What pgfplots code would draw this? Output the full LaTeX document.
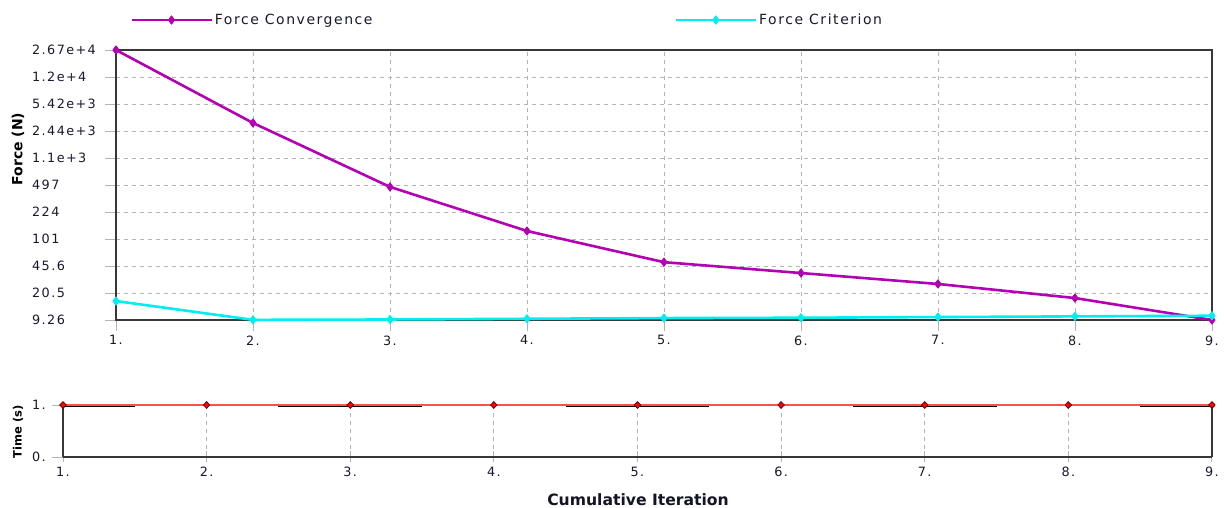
\documentclass[border=0pt]{standalone}
\usepackage{fontspec}
\setmainfont{DejaVu Sans}
\newfontfamily\tickfont[LetterSpace=11]{DejaVu Sans}
\usepackage{pgfplots}
\pgfplotsset{compat=1.18}
\definecolor{conv}{RGB}{178,0,178}
\definecolor{crit}{RGB}{0,238,242}
\definecolor{tickcol}{RGB}{25,25,45}
\definecolor{gridcol}{RGB}{180,180,180}
\definecolor{axcol}{RGB}{55,55,55}
\definecolor{darkred}{RGB}{90,0,0}
\definecolor{lred}{RGB}{255,80,80}
\begin{document}
\begin{tikzpicture}
\path[use as bounding box] (0pt,0pt) rectangle (1224pt,508pt);
\pgfplotsset{
  common/.style={
    scale only axis,
    xmin=1, xmax=9,
    xtick={1,2,3,4,5,6,7,8,9},
    xticklabels={1.,2.,3.,4.,5.,6.,7.,8.,9.},
    ticklabel style={font=\tickfont\fontsize{12.8}{14}\selectfont, text=tickcol},
    major grid style={gridcol, dash pattern=on 4pt off 4pt, line width=0.9pt},
    tick style={gridcol, line width=0.9pt},
    tick align=outside,
    major tick length=11pt,
    axis line style={axcol, line width=1.2pt},
  }
}
% ---------- top axis ----------
\begin{axis}[common,
  at={(116pt,188pt)}, anchor=south west,
  width=1096pt, height=270pt,
  ymode=log, ymin=9.26, ymax=26700,
  ytick={9.26,20.5,45.6,101,224,497,1100,2440,5420,12000,26700},
  yticklabels={9.26,20.5,45.6,101,224,497,1.1e+3,2.44e+3,5.42e+3,1.2e+4,2.67e+4},
  yminorticks=false,
  yticklabel style={anchor=west, xshift=-73pt, inner xsep=0pt},
  xticklabel style={yshift=-1pt},
  grid=major,
  xtick pos=bottom, ytick pos=left,
  clip=false,
  legend columns=2,
  legend cell align=left,
  legend style={draw=none, fill=none, inner sep=0pt,
    at={(axis description cs:0.0128,1.111)}, anchor=west,
    font=\tickfont\fontsize{14}{16}\selectfont, text=tickcol,
    /tikz/every even column/.append style={column sep=300pt}},
  legend image code/.code={\draw[mark repeat=2,mark phase=2,#1] plot coordinates {(0pt,0pt) (40pt,0pt) (80pt,0pt)};},
]
\addplot[conv, line width=2.6pt, line join=round, mark=diamond*, mark size=4.2pt, mark options={fill=conv, draw=conv, line width=0.8pt, line join=round}]
  coordinates {(1,26700) (2,3100) (3,470) (4,128) (5,51) (6,37) (7,26.8) (8,17.7) (9,9.26)};
\addlegendentry{Force Convergence}
\addplot[crit, line width=2.6pt, line join=round, mark=diamond*, mark size=4.2pt, mark options={fill=crit, draw=crit, line width=0.8pt, line join=round}]
  coordinates {(1,16.2) (2,9.3) (3,9.4) (4,9.6) (5,9.8) (6,9.9) (7,10.1) (8,10.3) (9,10.5)};
\addlegendentry{Force Criterion}
\end{axis}
% ---------- bottom axis ----------
\begin{axis}[common,
  at={(63pt,51pt)}, anchor=south west,
  width=1149pt, height=52pt,
  ymin=0, ymax=1,
  ytick={0,1}, yticklabels={0.,1.},
  yticklabel style={anchor=west, xshift=-20pt, inner xsep=0pt},
  xticklabel style={yshift=-1pt},
  xmajorgrids,
  axis x line=bottom, axis y line=box,
  x axis line style={-}, y axis line style={-},
  xtick pos=bottom, ytick pos=left,
  clip=false,
  unbounded coords=jump,
]
\addplot[black, line width=3pt]
  coordinates {(1,0.985) (1.5,0.985) (1.5,nan) (2.5,0.985) (3.5,0.985) (3.5,nan) (4.5,0.985) (5.5,0.985) (5.5,nan) (6.5,0.985) (7.5,0.985) (7.5,nan) (8.5,0.985) (9,0.985)};
\addplot[lred, line width=1.4pt, mark=diamond*, mark size=4pt, mark options={fill=red, draw=darkred, line width=0.7pt, xscale=1.1, yscale=0.85}]
  coordinates {(1,1) (2,1) (3,1) (4,1) (5,1) (6,1) (7,1) (8,1) (9,1)};
\end{axis}
% ---------- labels ----------
\node[rotate=90, font=\bfseries\fontsize{14}{16}\selectfont, text=black] at (18pt,359pt) {Force (N)};
\node[rotate=90, font=\bfseries\fontsize{11.5}{13}\selectfont, text=black] at (18pt,76pt) {Time (s)};
\node[font=\bfseries\fontsize{15.6}{17}\selectfont, text=tickcol!80!black] at (638pt,8pt) {Cumulative Iteration};
\end{tikzpicture}
\end{document}
